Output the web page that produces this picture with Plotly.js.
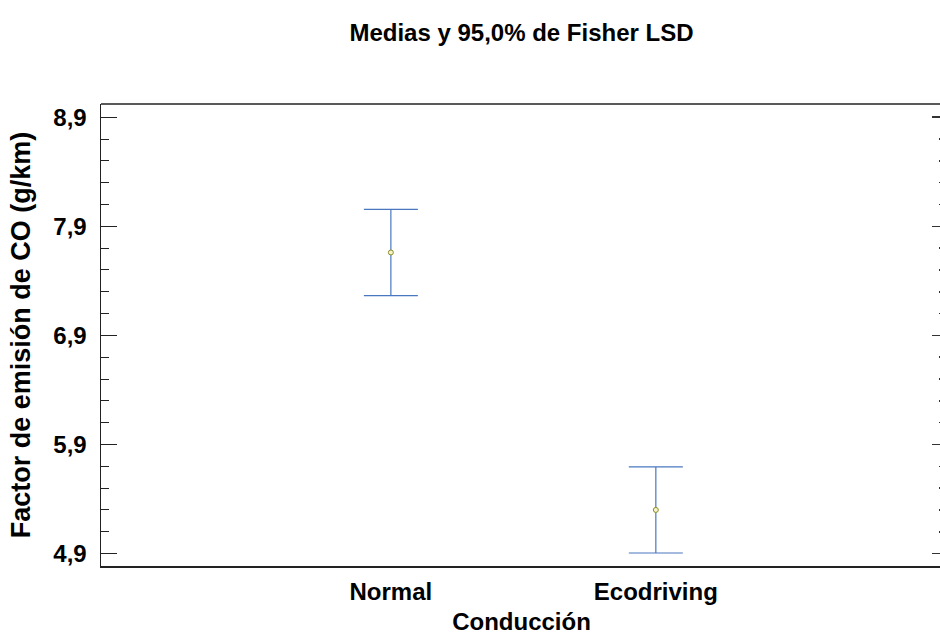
<!DOCTYPE html>
<html>
<head>
<meta charset="utf-8">
<script src="https://cdn.plot.ly/plotly-3.0.1.min.js"></script>
<style>html,body{margin:0;padding:0;background:#fff;overflow:hidden;width:940px;height:635px;}</style>
</head>
<body>
<div id="chart" style="width:942px;height:635px;"></div>
<script>
const categories = ["Normal", "Ecodriving"];
const positions = [1, 2];
const means = [7.66, 5.30];
const lsdHalfWidth = [0.395, 0.395];
const yTickVals = [4.9, 5.9, 6.9, 7.9, 8.9];
const yTickText = ["4,9", "5,9", "6,9", "7,9", "8,9"];

const font = "Liberation Sans, Arial, sans-serif";

const trace = {
  x: positions,
  y: means,
  type: "scatter",
  mode: "markers",
  marker: {symbol: "circle", size: 5, color: "#f4f4c8", line: {color: "#8c8c28", width: 1}},
  error_y: {type: "data", array: lsdHalfWidth, visible: true, color: "#4a78c0", thickness: 1.2, width: 27},
  showlegend: false,
  hoverinfo: "skip"
};

const rightTicks = {
  x: positions, y: means, yaxis: "y2", mode: "markers",
  marker: {opacity: 0}, showlegend: false, hoverinfo: "skip"
};

const layout = {
  width: 942, height: 635,
  margin: {l: 101, r: 0, t: 104, b: 69},
  paper_bgcolor: "#fff", plot_bgcolor: "#fff",
  title: {text: "<b>Medias y 95,0% de Fisher LSD</b>", font: {family: font, size: 24, color: "#000"},
          x: 0.5, xref: "paper", y: 0.948, yref: "container", xanchor: "center", yanchor: "middle"},
  xaxis: {
    range: [-0.094, 3.08], showgrid: false, zeroline: false,
    showline: true, mirror: false, linecolor: "#222", linewidth: 1.5,
    ticks: "", tickvals: positions, ticktext: categories.map(c => "<b>" + c + "</b>"),
    tickfont: {family: font, size: 24, color: "#000"},
    ticklabelstandoff: 4,
    title: {text: "<b>Conducción</b>", font: {family: font, size: 24, color: "#000"}, standoff: 10}
  },
  yaxis: {
    range: [4.786, 9.021], showgrid: false, zeroline: false,
    showline: true, linecolor: "#222", linewidth: 1.5,
    ticks: "inside", ticklen: 16, tickcolor: "#222", tickwidth: 1,
    tickvals: yTickVals, ticktext: yTickText.map(t => "<b>" + t + "</b>"),
    tickfont: {family: font, size: 24, color: "#000"},
    ticklabelstandoff: 8,
    minor: {tick0: 4.9, dtick: 0.2, ticks: "inside", ticklen: 8, tickcolor: "#222", tickwidth: 1},
    title: {text: "<b>Factor de emisión de CO (g/km)</b>", font: {family: font, size: 27, color: "#000"}, standoff: 15}
  },
  yaxis2: {
    overlaying: "y", side: "right", range: [4.786, 9.021],
    showgrid: false, zeroline: false, showline: false,
    ticks: "inside", ticklen: 10, tickcolor: "#333", tickwidth: 1.5,
    tickvals: yTickVals, showticklabels: false,
    minor: {tick0: 4.9, dtick: 0.2, ticks: "inside", ticklen: 3, tickcolor: "#333", tickwidth: 1.5}
  },
  shapes: [
    {type: "line", xref: "paper", yref: "paper", x0: 0, x1: 1, y0: 1, y1: 1, line: {color: "#222", width: 1.5}}
  ]
};

Plotly.newPlot("chart", [trace, rightTicks], layout, {displayModeBar: false, staticPlot: true});
</script>
</body>
</html>
